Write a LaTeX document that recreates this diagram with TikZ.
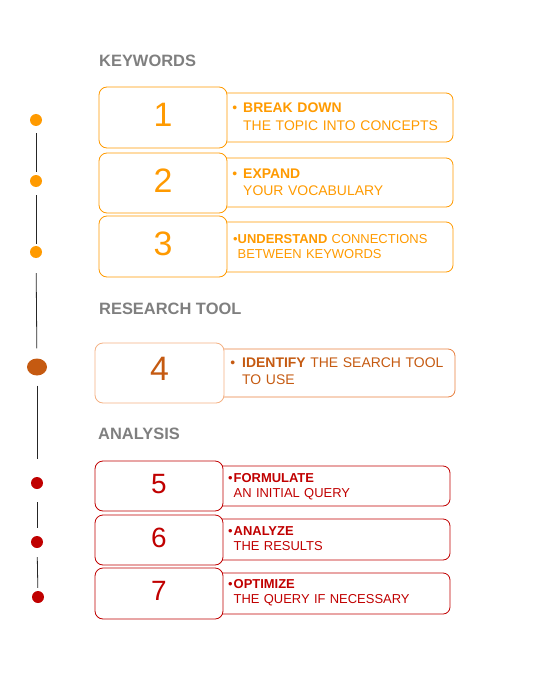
\documentclass[tikz,border=0pt]{standalone}
\usepackage{fontspec}
\setmainfont{Liberation Sans}
\usetikzlibrary{shapes.geometric}

\definecolor{keyorange}{HTML}{FF9A00}
\definecolor{toolrust}{HTML}{C55A11}
\definecolor{toollight}{HTML}{F4B183}
\definecolor{toolline}{HTML}{E8803F}
\definecolor{anared}{HTML}{C00000}
\definecolor{headgray}{HTML}{7F7F7F}

\begin{document}
\begin{tikzpicture}[x=1bp,y=-1bp,
    head/.style={anchor=base west, inner sep=0pt, text=headgray, font=\fontsize{16.5}{18}\selectfont\bfseries},
    numbox/.style={draw=#1, fill=white, rounded corners=8bp, line width=0.8bp, minimum width=128bp, inner sep=0pt, text depth=5bp},
    txtbox/.style={draw=#1, rounded corners=7bp, line width=0.8bp, minimum width=236bp, inner sep=0pt},
    lbl/.style={anchor=base west, inner sep=0pt, text width=215bp, align=left, text=#1},
    dot/.style={circle, fill=#1, inner sep=0pt, minimum size=12bp},
    link/.style={draw=black!85, line width=0.8bp}]

    \useasboundingbox (0,0) rectangle (534,676);

    % headings
    \node[head] (keywords) at (99,67) {KEYWORDS};
    \node[head] (tool) at (99,314) {RESEARCH TOOL};
    \node[head] (analysis) at (98,439) {ANALYSIS};

    % text boxes first, number boxes on top
    \node[txtbox=keyorange, minimum height=49bp, minimum width=236bp] (t1) at (335,117.5) {};
    \node[txtbox=keyorange, minimum height=49bp, minimum width=236bp] (t2) at (335,182.5) {};
    \node[txtbox=keyorange, minimum height=50bp, minimum width=236bp] (t3) at (335,247) {};
    \node[txtbox=toolline, minimum height=48bp, minimum width=241bp] (t4) at (334.5,373) {};
    \node[txtbox=anared, minimum height=40bp, minimum width=237bp] (t5) at (331.5,486) {};
    \node[txtbox=anared, minimum height=41bp, minimum width=237bp] (t6) at (331.5,539.5) {};
    \node[txtbox=anared, minimum height=41bp, minimum width=237bp] (t7) at (331.5,593.5) {};

    \node[numbox=keyorange, minimum height=61bp, text=keyorange, font=\fontsize{34}{34}\selectfont] (n1) at (163,117.5) {1};
    \node[numbox=keyorange, minimum height=60bp, text=keyorange, font=\fontsize{34}{34}\selectfont] (n2) at (163,183) {2};
    \node[numbox=keyorange, minimum height=61bp, text=keyorange, font=\fontsize{34}{34}\selectfont] (n3) at (163,246.5) {3};
    \node[numbox=toollight, minimum height=60bp, minimum width=129bp, text depth=8bp, text=toolrust, font=\fontsize{34}{34}\selectfont] (n4) at (159.5,373) {4};
    \node[numbox=anared, minimum height=50bp, text=anared, font=\fontsize{28}{28}\selectfont] (n5) at (159,486) {5};
    \node[numbox=anared, minimum height=50bp, text=anared, font=\fontsize{28}{28}\selectfont] (n6) at (159,540) {6};
    \node[numbox=anared, minimum height=51bp, text=anared, font=\fontsize{28}{28}\selectfont] (n7) at (159,593.5) {7};

    % texts
    \node[lbl=keyorange, font=\fontsize{14}{18}\selectfont] (l1) at (243,113)
      {\llap{\textbullet\hspace{6bp}}\textbf{BREAK DOWN}\\THE TOPIC INTO CONCEPTS};
    \node[lbl=keyorange, font=\fontsize{14}{18}\selectfont] (l2) at (243,178)
      {\llap{\textbullet\hspace{6bp}}\textbf{EXPAND}\\YOUR VOCABULARY};
    \node[lbl=keyorange, font=\fontsize{13}{15.5}\selectfont] (l3) at (237.5,243)
      {\llap{\textbullet}\textbf{UNDERSTAND} CONNECTIONS\\BETWEEN KEYWORDS};
    \node[lbl=toolrust, font=\fontsize{14}{18}\selectfont] (l4) at (242,367)
      {\llap{\textbullet\hspace{7bp}}\textbf{IDENTIFY} THE SEARCH TOOL\\TO USE};
    \node[lbl=anared, font=\fontsize{13}{15.5}\selectfont] (l5) at (233.5,482)
      {\llap{\textbullet\hspace{1bp}}\textbf{FORMULATE}\\AN INITIAL QUERY};
    \node[lbl=anared, font=\fontsize{13}{15.5}\selectfont] (l6) at (233.5,535)
      {\llap{\textbullet\hspace{1bp}}\textbf{ANALYZE}\\THE RESULTS};
    \node[lbl=anared, font=\fontsize{13}{15.5}\selectfont] (l7) at (233.5,588)
      {\llap{\textbullet\hspace{1bp}}\textbf{OPTIMIZE}\\THE QUERY IF NECESSARY};

    % timeline
    \node[dot=keyorange] (d1) at (36,120) {};
    \node[dot=keyorange] (d2) at (36,181) {};
    \node[dot=keyorange] (d3) at (36,252) {};
    \node[ellipse, fill=toolrust, inner sep=0pt, minimum width=20bp, minimum height=17bp] (d4) at (37,367) {};
    \node[dot=anared] (d5) at (37,483) {};
    \node[dot=anared] (d6) at (37,542) {};
    \node[dot=anared] (d7) at (38,597) {};

    \draw[link, shorten <=7bp, shorten >=3bp] (d1) -- (d2);
    \draw[link, shorten <=8bp, shorten >=2bp] (d2) -- (d3);
    \draw[link, shorten <=15bp, shorten >=10bp] (d3) -- (d4);
    \draw[link, shorten <=10bp, shorten >=18bp] (d4) -- (d5);
    \draw[link, shorten <=13bp, shorten >=8bp] (d5) -- (d6);
    \draw[link, shorten <=9bp, shorten >=3bp] (d6) -- (d7);
    %
\end{tikzpicture}
\end{document}
